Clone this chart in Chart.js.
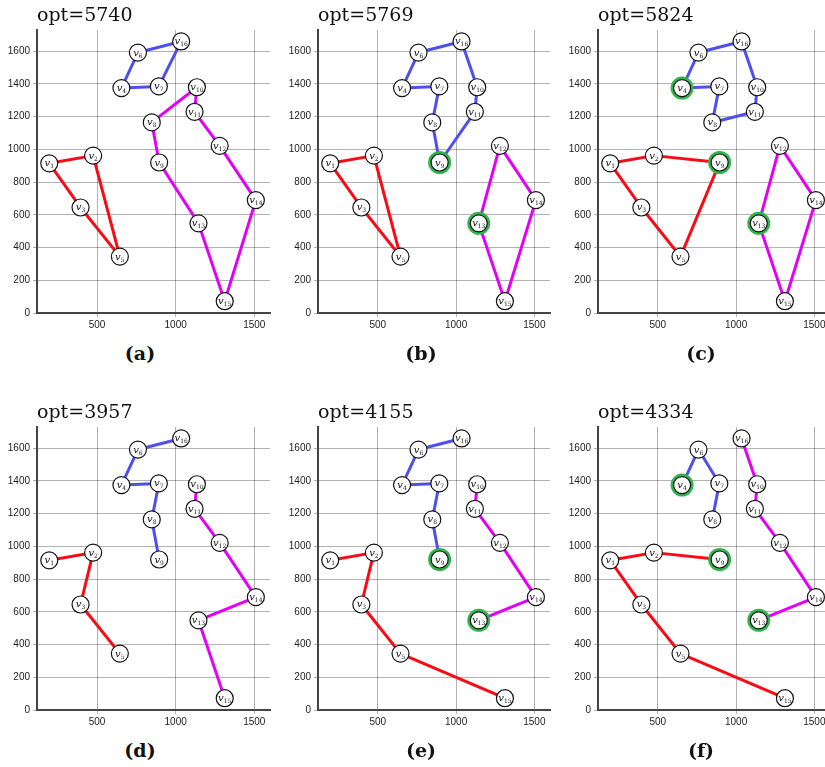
<!DOCTYPE html>
<html>
<head>
<meta charset="utf-8">
<script src="https://cdn.jsdelivr.net/npm/chart.js@4"></script>
<style>
  html, body { margin: 0; padding: 0; background: #fff; }
  body { position: relative; width: 825px; height: 767px; overflow: hidden; }
  canvas { position: absolute; }
  .opt { position: absolute; font-family: "DejaVu Serif", serif; font-size: 19px; line-height: 1; color: #111; white-space: nowrap; }
  .cap { position: absolute; width: 80px; text-align: center; font-family: "DejaVu Serif", serif; font-weight: bold; font-size: 19px; line-height: 1; color: #111; }
</style>
</head>
<body>
<script>
// node positions (same for every panel)
const nodeIds = ['v1','v2','v3','v4','v5','v6','v7','v8','v9','v10','v11','v12','v13','v14','v15','v16'];
const nodeX = [196, 475, 395, 655, 645, 760, 893, 848, 895, 1135, 1120, 1280, 1145, 1510, 1312, 1035];
const nodeY = [915, 962, 645, 1375, 345, 1592, 1385, 1165, 920, 1380, 1230, 1022, 548, 690, 72, 1660];

const xTicks = [500, 1000, 1500];
const yTicks = [0, 200, 400, 600, 800, 1000, 1200, 1400, 1600];

const optValues = [5740, 5769, 5824, 3957, 4155, 4334];
const panelLabels = ['(a)', '(b)', '(c)', '(d)', '(e)', '(f)'];

// routes per panel, drawn as paths through the nodes
const redPaths = [
  [['v1','v2','v5','v3','v1']],
  [['v1','v2','v5','v3','v1']],
  [['v1','v2','v9','v5','v3','v1']],
  [['v1','v2','v3','v5']],
  [['v1','v2','v3','v5','v15']],
  [['v9','v2','v1','v3','v5','v15']]
];
const bluePaths = [
  [['v4','v6','v16','v7','v4']],
  [['v4','v6','v16','v10','v11','v9','v8','v7','v4']],
  [['v4','v6','v16','v10','v11','v8','v7','v4']],
  [['v16','v6','v4','v7','v8','v9']],
  [['v16','v6','v4','v7','v8','v9']],
  [['v4','v6','v7','v8']]
];
const magentaPaths = [
  [['v10','v11','v12','v14','v15','v13','v9','v8','v10']],
  [['v12','v14','v15','v13','v12']],
  [['v12','v14','v15','v13','v12']],
  [['v10','v11','v12','v14','v13','v15']],
  [['v10','v11','v12','v14','v13']],
  [['v16','v10','v11','v12','v14','v13']]
];
const greenNodes = [
  [],
  ['v9','v13'],
  ['v4','v9','v13'],
  [],
  ['v9','v13'],
  ['v4','v9','v13']
];

const panelLeft = [37, 318, 598];   // y axis position for each column
const panelTop = [30, 427];         // top of plot area for each row

const RED = '#fa0a14';
const BLUE = '#4f4ff0';
const MAGENTA = '#e200f6';
const GREEN = '#2fb54c';

function pt(id) {
  const i = nodeIds.indexOf(id);
  return { x: nodeX[i], y: nodeY[i] };
}

// draws the "v" labels with subscripts on top of the node circles
const nodeLabels = {
  id: 'nodeLabels',
  afterDatasetsDraw(chart) {
    const ctx = chart.ctx;
    const sx = chart.scales.x, sy = chart.scales.y;
    ctx.save();
    ctx.fillStyle = '#111';
    ctx.textBaseline = 'alphabetic';
    nodeIds.forEach((id, i) => {
      const px = sx.getPixelForValue(nodeX[i]);
      const py = sy.getPixelForValue(nodeY[i]);
      const sub = id.slice(1);
      ctx.font = 'italic 10px "DejaVu Serif", serif';
      const wv = ctx.measureText('v').width;
      ctx.font = '6px "DejaVu Serif", serif';
      const ws = ctx.measureText(sub).width;
      const left = px - (wv + ws) / 2;
      ctx.font = 'italic 10px "DejaVu Serif", serif';
      ctx.fillText('v', left, py + 3);
      ctx.font = '6px "DejaVu Serif", serif';
      ctx.fillText(sub, left + wv, py + 5);
    });
    ctx.restore();
  }
};

function edgeSets(paths, color) {
  return paths.map(p => ({
    data: p.map(pt),
    showLine: true,
    borderColor: color,
    borderWidth: 3,
    pointRadius: 0,
    borderJoinStyle: 'round',
    borderCapStyle: 'round',
    clip: false,
    order: 3
  }));
}

function makePanel(k) {
  const col = k % 3, row = Math.floor(k / 3);
  const axisLeft = panelLeft[col];
  const plotTop = panelTop[row];

  const canvas = document.createElement('canvas');
  canvas.width = 282;
  canvas.height = 14 + 283 + 26;
  canvas.style.left = (axisLeft - 37) + 'px';
  canvas.style.top = (plotTop - 14) + 'px';
  document.body.appendChild(canvas);

  const title = document.createElement('div');
  title.className = 'opt';
  title.textContent = 'opt=' + optValues[k];
  title.style.left = axisLeft + 'px';
  title.style.top = (plotTop - 25) + 'px';
  document.body.appendChild(title);

  const cap = document.createElement('div');
  cap.className = 'cap';
  cap.textContent = panelLabels[k];
  cap.style.left = (axisLeft + 63) + 'px';
  cap.style.top = (plotTop + 314) + 'px';
  document.body.appendChild(cap);

  const datasets = [
    ...edgeSets(redPaths[k], RED),
    ...edgeSets(bluePaths[k], BLUE),
    ...edgeSets(magentaPaths[k], MAGENTA),
    {
      data: greenNodes[k].map(pt),
      pointRadius: 10,
      borderColor: GREEN,
      borderWidth: 3,
      backgroundColor: 'rgba(0,0,0,0)',
      clip: false,
      order: 2
    },
    {
      data: nodeIds.map(pt),
      pointRadius: 8.5,
      backgroundColor: '#fff',
      borderColor: '#111',
      borderWidth: 1.2,
      clip: false,
      order: 1
    }
  ];

  const tickFont = { family: 'Liberation Sans, Arial', size: 10 };

  new Chart(canvas.getContext('2d'), {
    type: 'scatter',
    data: { datasets },
    options: {
      responsive: false,
      animation: false,
      devicePixelRatio: 1,
      events: [],
      layout: { padding: { top: 14, right: 12, left: 0, bottom: 0 } },
      plugins: { legend: { display: false }, tooltip: { enabled: false } },
      scales: {
        x: {
          type: 'linear',
          min: 118,
          max: 1600,
          afterBuildTicks: s => { s.ticks = xTicks.map(v => ({ value: v })); },
          afterFit: s => { s.height = 26; },
          grid: { color: 'rgba(0,0,0,0.3)', lineWidth: 1, tickLength: 4 },
          border: { color: '#444', width: 2 },
          ticks: { color: '#222', padding: 2, font: tickFont, callback: v => String(v) }
        },
        y: {
          type: 'linear',
          min: 0,
          max: 1730,
          afterBuildTicks: s => { s.ticks = yTicks.map(v => ({ value: v })); },
          afterFit: s => { s.width = 37; },
          grid: { color: 'rgba(0,0,0,0.3)', lineWidth: 1, tickLength: 4 },
          border: { color: '#444', width: 2 },
          ticks: { color: '#222', padding: 3, font: tickFont, callback: v => String(v) }
        }
      }
    },
    plugins: [nodeLabels]
  });
}

for (let k = 0; k < 6; k++) makePanel(k);
</script>
</body>
</html>
